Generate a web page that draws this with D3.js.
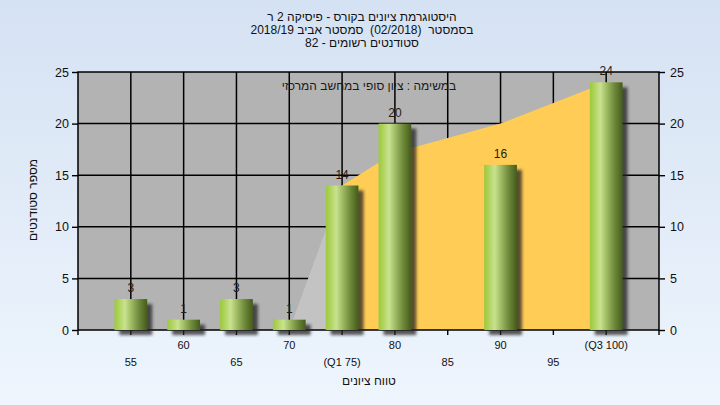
<!DOCTYPE html>
<html><head><meta charset="utf-8">
<script src="https://cdn.jsdelivr.net/npm/d3@7"></script>
<style>body{margin:0;background:#fff} svg{display:block}</style>
</head><body><svg id="c" width="720" height="405"></svg>
<script>
const categories = [55, 60, 65, 70, 75, 80, 85, 90, 95, 100];
const tickLabels = ["55", "60", "65", "70", "(Q1 75)", "80", "85", "90", "95", "(Q3 100)"];
const counts = [3, 1, 3, 1, 14, 20, 0, 16, 0, 24];
const areaValues = [0, 0, 0, 0, 14, 17.2, 18.6, 20, 22, 24];
const yTicks = [0, 5, 10, 15, 20, 25];
const quartileLow = 75;
const quartileHigh = 100;
const titleLines = [
  "היסטוגרמת ציונים בקורס - פיסיקה 2 ר",
  "בסמסטר  (02/2018)  סמסטר אביב 2018/19",
  "סטודנטים רשומים - 82"
];
const areaLabel = "במשימה : ציון סופי במחשב המרכזי";
const xTitle = "טווח ציונים";
const yTitle = "מספר סטודנטים";

const W = 720, H = 405;
const plot = {left: 78, right: 659, top: 72, bottom: 330};
const FONT = "'Liberation Sans', 'DejaVu Sans', Arial, sans-serif";

const svg = d3.select("#c");
const defs = svg.append("defs");

const bg = defs.append("linearGradient").attr("id", "bg").attr("x1", 0).attr("y1", 0).attr("x2", 0).attr("y2", 1);
bg.append("stop").attr("offset", "0%").attr("stop-color", "#d5e2f3");
bg.append("stop").attr("offset", "100%").attr("stop-color", "#eef5fd");

const bar = defs.append("linearGradient").attr("id", "barg").attr("x1", 0).attr("y1", 0).attr("x2", 1).attr("y2", 0);
[["0%", "#9cc93f"], ["12%", "#acd256"], ["32%", "#c9e290"], ["48%", "#a6c26a"], ["75%", "#6e893a"], ["100%", "#455b1c"]]
  .forEach(([o, c]) => bar.append("stop").attr("offset", o).attr("stop-color", c));

const f = defs.append("filter").attr("id", "shadow").attr("x", "-30%").attr("y", "-30%").attr("width", "180%").attr("height", "160%");
f.append("feDropShadow").attr("dx", 5).attr("dy", 5).attr("stdDeviation", 1.8)
  .attr("flood-color", "#222").attr("flood-opacity", 0.75);

svg.append("rect").attr("width", W).attr("height", H).attr("fill", "url(#bg)");

const x = d3.scalePoint().domain(categories).range([plot.left, plot.right]).padding(1);
const y = d3.scaleLinear().domain([0, 25]).range([plot.bottom, plot.top]);
const barW = x.step() * 0.62;

// plot background
svg.append("rect").attr("x", plot.left).attr("y", plot.top)
  .attr("width", plot.right - plot.left).attr("height", plot.bottom - plot.top).attr("fill", "#b3b3b3");

// grid
const grid = svg.append("g").attr("stroke", "#000").attr("stroke-width", 1.5);
grid.selectAll("line.h").data(yTicks.filter(d => d > 0 && d < 25)).join("line")
  .attr("x1", plot.left).attr("x2", plot.right).attr("y1", d => y(d)).attr("y2", d => y(d));
grid.selectAll("line.v").data(categories).join("line")
  .attr("x1", d => x(d)).attr("x2", d => x(d)).attr("y1", plot.top).attr("y2", plot.bottom);

// area series
const areaData = categories.map((c, i) => ({c, v: areaValues[i]}));
const areaGen = d3.area().x(d => x(d.c)).y0(y(0)).y1(d => y(d.v));
svg.append("path").datum(areaData.filter(d => d.c <= quartileLow))
  .attr("d", areaGen).attr("fill", "#c3c3c3");
svg.append("path").datum(areaData.filter(d => d.c >= quartileLow && d.c <= quartileHigh))
  .attr("d", areaGen).attr("fill", "#ffcc55");

// plot border
svg.append("rect").attr("x", plot.left).attr("y", plot.top)
  .attr("width", plot.right - plot.left).attr("height", plot.bottom - plot.top)
  .attr("fill", "none").attr("stroke", "#000").attr("stroke-width", 1.5);

// axes
const yL = d3.axisLeft(y).tickValues(yTicks).tickSize(6).tickPadding(3);
const yR = d3.axisRight(y).tickValues(yTicks).tickSize(6).tickPadding(5);

function styleAxis(g) {
  g.select(".domain").remove();
  g.selectAll(".tick line").attr("stroke", "#000").attr("stroke-width", 1.4);
  g.selectAll("text").attr("fill", "#111").style("font-family", FONT).style("font-size", "12.5px");
}
svg.append("g").attr("transform", `translate(${plot.left},0)`).call(yL).call(styleAxis);
svg.append("g").attr("transform", `translate(${plot.right},0)`).call(yR).call(styleAxis);

// bottom ticks
const xTicks = [plot.left, ...categories.map(c => x(c)), plot.right];
svg.append("g").selectAll("line").data(xTicks).join("line")
  .attr("x1", d => d).attr("x2", d => d).attr("y1", plot.bottom).attr("y2", plot.bottom + 5)
  .attr("stroke", "#000").attr("stroke-width", 1.4);

svg.append("g").selectAll("text").data(categories).join("text")
  .attr("x", d => x(d))
  .attr("y", (d, i) => i % 2 === 1 ? 349 : 366)
  .attr("text-anchor", "middle").attr("fill", "#111")
  .style("font-family", FONT).style("font-size", "11px")
  .text((d, i) => tickLabels[i]);

// bars
const barData = categories.map((c, i) => ({c, v: counts[i]})).filter(d => d.v > 0);
svg.append("g").attr("filter", "url(#shadow)").selectAll("rect").data(barData).join("rect")
  .attr("x", d => x(d.c) - barW / 2).attr("width", barW)
  .attr("y", d => y(d.v)).attr("height", d => y(0) - y(d.v))
  .attr("fill", "url(#barg)");

svg.append("g").selectAll("text").data(barData).join("text")
  .attr("x", d => x(d.c)).attr("y", d => y(d.v) - 7)
  .attr("text-anchor", "middle").attr("fill", "#2a1a10")
  .style("font-family", FONT).style("font-size", "12px")
  .text(d => d.v);

// area series label
svg.append("text").attr("x", 369).attr("y", 90).attr("text-anchor", "middle")
  .attr("direction", "rtl").style("unicode-bidi", "embed")
  .attr("fill", "#1a1a1a").style("font-family", FONT).style("font-size", "12px")
  .text(areaLabel);

// titles
svg.append("g").selectAll("text").data(titleLines).join("text")
  .attr("x", 362).attr("y", (d, i) => 21 + i * 13)
  .attr("text-anchor", "middle").attr("direction", "rtl").style("unicode-bidi", "embed")
  .style("white-space", "pre")
  .attr("fill", "#111").style("font-family", FONT).style("font-size", "12px")
  .text(d => d);

svg.append("text").attr("x", 369).attr("y", 385).attr("text-anchor", "middle")
  .attr("direction", "rtl").style("unicode-bidi", "embed")
  .attr("fill", "#111").style("font-family", FONT).style("font-size", "12px")
  .text(xTitle);

svg.append("text").attr("transform", "translate(37,200) rotate(-90)")
  .attr("text-anchor", "middle").attr("direction", "rtl").style("unicode-bidi", "embed")
  .attr("fill", "#111").style("font-family", FONT).style("font-size", "12px")
  .text(yTitle);
</script>
</body></html>
